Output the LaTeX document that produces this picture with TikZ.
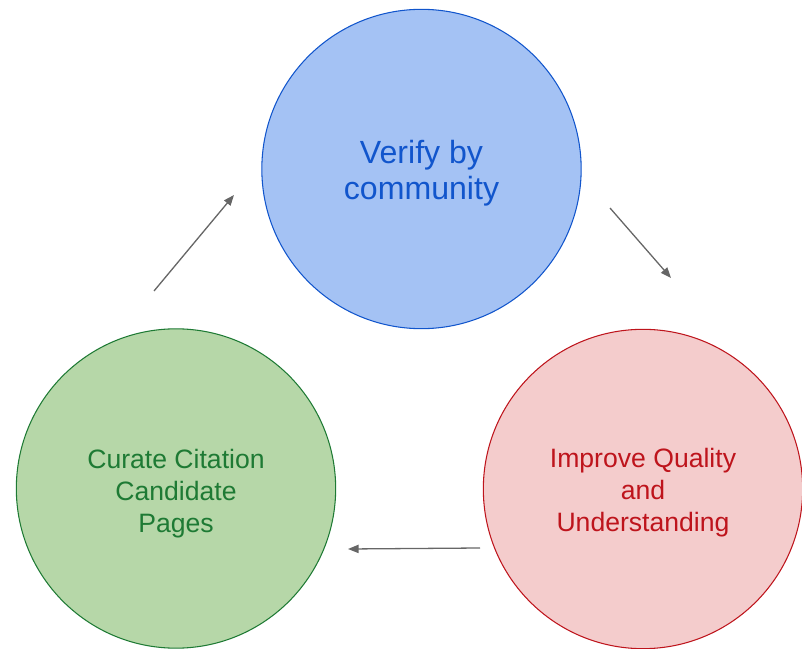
\documentclass[tikz,border=0pt]{standalone}
\usepackage{fontspec}
\setmainfont{Liberation Sans}
\usepackage{tikz}
\usepackage{xcolor}
\usetikzlibrary{arrows.meta}

\definecolor{vblue}{HTML}{1155CC}
\definecolor{vfill}{HTML}{A4C2F4}
\definecolor{cgreen}{HTML}{1E7A34}
\definecolor{cfill}{HTML}{B6D7A8}
\definecolor{ired}{HTML}{BE141C}
\definecolor{ifill}{HTML}{F4CCCC}
\definecolor{agray}{HTML}{666666}

\begin{document}
\begin{tikzpicture}[x=0.03cm, y=-0.03cm,
    bubble/.style={circle, draw, line width=0.9pt, minimum size=9.58cm, inner sep=0pt},
    txt/.style={align=center, font=\fontsize{22.7}{27.3}\selectfont},
    flow/.style={draw=agray, line width=1.1pt, -{Triangle[length=9pt, width=7pt]}}]
        \useasboundingbox (0, 0) rectangle (802, 649);

        \node[bubble, draw=vblue, fill=vfill, label={[txt, text=vblue, yshift=-3.4pt, font=\fontsize{27.4}{30.7}\selectfont]center:{Verify by\\community}}] (verify) at (421.5, 169) {};
        \node[bubble, draw=cgreen, fill=cfill, label={[txt, text=cgreen, yshift=-4.2pt]center:{Curate Citation\\Candidate\\Pages}}] (curate) at (176, 488.5) {};
        \node[bubble, draw=ired, fill=ifill, label={[txt, text=ired, yshift=-3.4pt]center:{Improve Quality\\and\\Understanding}}] (improve) at (643, 489) {};

        % free ends of the arrows
        \coordinate (c1) at (154, 291);
        \coordinate (c2) at (234, 195);
        \coordinate (v1) at (610, 208);
        \coordinate (v2) at (671, 278);
        \coordinate (i1) at (480, 548);
        \coordinate (i2) at (348, 549);

        \draw[flow] (c1) to (c2);
        \draw[flow] (v1) to (v2);
        \draw[flow] (i1) to (i2);
    \end{tikzpicture}
\end{document}
